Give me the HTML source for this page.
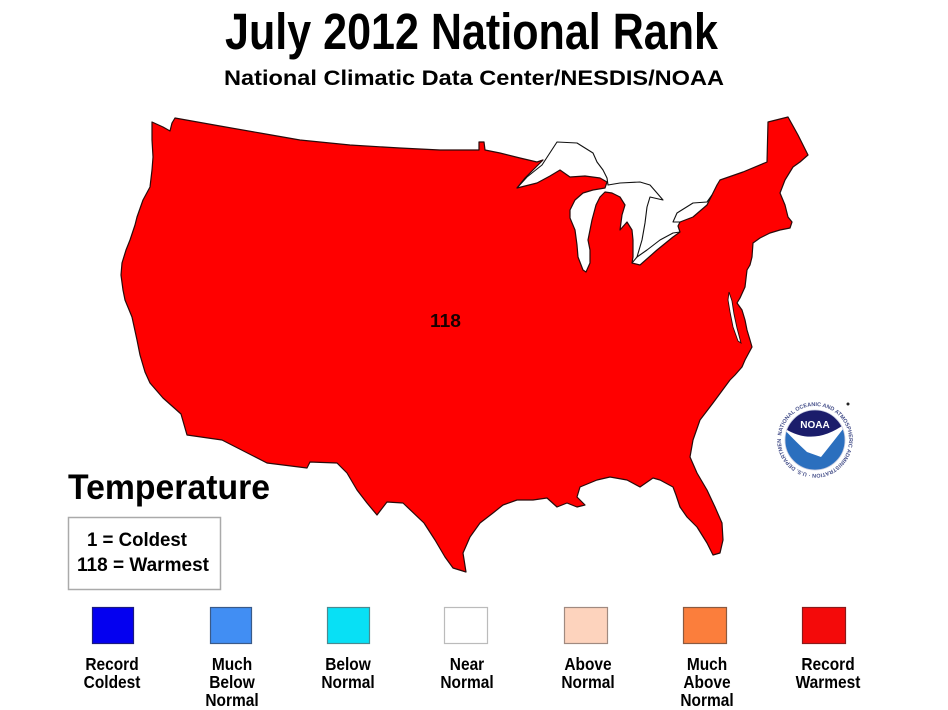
<!DOCTYPE html>
<html>
<head>
<meta charset="utf-8">
<style>
html,body{margin:0;padding:0;background:#fff;}
svg{display:block;}
text{font-family:"Liberation Sans",Arial,sans-serif;font-weight:bold;}
</style>
</head>
<body>
<svg width="948" height="710" viewBox="0 0 948 710" xmlns="http://www.w3.org/2000/svg">
<rect width="948" height="710" fill="#fff"/>

<!-- Titles -->
<text x="225" y="49" font-size="51" fill="#000" textLength="493" lengthAdjust="spacingAndGlyphs">July 2012 National Rank</text>
<text x="224" y="85" font-size="21" fill="#000" textLength="500" lengthAdjust="spacingAndGlyphs">National Climatic Data Center/NESDIS/NOAA</text>

<!-- Map -->
<path fill="#ff0000" stroke="#2a0a0a" stroke-width="1.2" stroke-linejoin="round" d="
M152,122 L163,127 L170,131 L172,123 L175,118
L220,126 L260,133 L300,140 L350,145 L400,148 L440,150 L479,150 L479,142 L484,142 L485,150 L500,153 L520,158 L537,162 L543,160
L535,168 L525,178 L517,188
L525,186 L537,183 L550,176 L560,170 L570,177 L585,176 L600,178 L607,182
L605,188 L593,190 L583,193 L575,200 L570,210 L570,218 L575,230 L577,245 L578,257 L583,270 L586,272 L590,263 L590,250 L588,240 L592,220 L596,205 L600,197 L605,192 L612,193 L620,197 L625,205 L622,215 L620,230 L627,222 L632,230 L633,240 L633,257 L632,263
L640,265 L657,250 L673,237 L680,232
L678,226 L680,222 L693,217 L707,205
L712,195 L717,185 L720,180 L743,172 L767,162 L768,122 L788,117 L798,135 L808,155 L800,162 L793,167 L785,180 L780,193 L785,205 L788,217 L792,222 L790,228 L780,230 L770,233 L760,238 L753,243 L752,257 L750,265 L747,270 L745,287 L740,298 L737,303 L742,310 L745,320 L747,330 L750,340 L752,347 L745,360 L742,367 L735,375 L730,380 L713,403 L700,420 L693,440 L690,457 L697,473 L707,490 L715,507 L722,523 L723,540 L720,553 L713,555 L707,543 L697,527 L687,517 L680,507 L676,495 L673,487 L660,480 L653,478 L640,487 L627,480 L610,477 L597,480 L580,487 L577,497 L585,505 L577,507 L567,503 L557,507 L547,498 L533,500 L517,500 L503,505 L493,513 L480,523 L470,537 L463,553 L466,572
L453,568 L445,557 L435,540 L424,523 L403,503 L387,502 L377,515 L367,503 L357,490 L347,473 L337,463 L310,462 L307,468 L267,463 L222,440 L187,435 L181,414 L163,398 L150,383
L145,372 L140,355 L137,340 L132,317 L125,300 L123,290 L121,275 L122,263 L126,250 L130,240 L135,225 L137,217 L143,200 L150,187 L152,170 L153,157 L152,140 Z"/>

<!-- Chesapeake -->
<path fill="#fff" stroke="#2a0a0a" stroke-width="0.9" d="M729,292 L732,301 L734,314 L737,328 L741,343 L738,341 L733,327 L730,312 L728,300 Z"/>

<!-- Canadian lake shores -->
<g fill="none" stroke="#111" stroke-width="1.1" stroke-linejoin="round">
<path d="M517,188 L527,177 L542,165 L557,142 L577,143 L593,153 L597,162 L603,170 L607,178 L608,185 L620,183 L640,182 L650,185 L657,193 L663,200 L650,197 L647,207 L645,223 L642,240 L637,257 L632,263"/>
<path d="M637,257 L647,250 L660,240 L673,233 L680,232"/>
<path d="M680,222 L673,222 L677,213 L693,203 L707,202 L712,195"/>
</g>

<text x="430" y="327" font-size="18" fill="#1a0000" textLength="31" lengthAdjust="spacingAndGlyphs">118</text>

<!-- NOAA logo -->
<defs>
<clipPath id="disk"><circle cx="815" cy="440" r="30"/></clipPath>
<path id="ring" d="M815,440 m-34,0 a34,34 0 1,1 68,0 a34,34 0 1,1 -68,0"/>
</defs>
<circle cx="815" cy="440" r="38" fill="#fff"/>
<text font-size="5.5" fill="#46508a"><textPath href="#ring" startOffset="2%">NATIONAL OCEANIC AND ATMOSPHERIC ADMINISTRATION · U.S. DEPARTMENT OF COMMERCE ·</textPath></text>
<g clip-path="url(#disk)">
<rect x="780" y="405" width="75" height="75" fill="#2b6fbe"/>
<path d="M780,405 L852,405 L852,423 Q815,448 780,428 Z" fill="#1b1d6b"/>
<path d="M781,426 Q814,450 850,420 Q837,437 821,457 L807,452 Q795,441 781,426 Z" fill="#fff"/>
</g>
<circle cx="815" cy="440" r="30" fill="none" stroke="#c8cce0" stroke-width="0.8"/>
<text x="815" y="428" font-size="10" fill="#ffffff" text-anchor="middle">NOAA</text>
<circle cx="848" cy="404" r="1.5" fill="#222"/>

<!-- Temperature legend box -->
<text x="68" y="499" font-size="35" fill="#000" textLength="202" lengthAdjust="spacingAndGlyphs">Temperature</text>
<rect x="68.5" y="517.5" width="152" height="72" fill="#fff" stroke="#aaa" stroke-width="1.5"/>
<text x="87" y="546" font-size="19" fill="#000" textLength="100" lengthAdjust="spacingAndGlyphs">1 = Coldest</text>
<text x="77" y="571" font-size="19" fill="#000" textLength="132" lengthAdjust="spacingAndGlyphs">118 = Warmest</text>

<!-- Color legend -->
<g stroke-width="1.2">
<rect x="92.5" y="607.5" width="41" height="36" fill="#0400f0" stroke="#1a1a80"/>
<rect x="210.5" y="607.5" width="41" height="36" fill="#418ef3" stroke="#3a5a88"/>
<rect x="327.5" y="607.5" width="42" height="36" fill="#08e0f5" stroke="#4a8a90"/>
<rect x="444.5" y="607.5" width="43" height="36" fill="#fff" stroke="#bbb"/>
<rect x="564.5" y="607.5" width="43" height="36" fill="#fdd3bd" stroke="#a08a80"/>
<rect x="683.5" y="607.5" width="43" height="36" fill="#fb7e3c" stroke="#8a5a40"/>
<rect x="802.5" y="607.5" width="43" height="36" fill="#f40a0a" stroke="#8a1a1a"/>
</g>

<g font-size="18" text-anchor="middle" fill="#000">
<g transform="translate(112,0) scale(0.86,1)"><text x="0" y="670">Record</text><text x="0" y="688">Coldest</text></g>
<g transform="translate(232,0) scale(0.86,1)"><text x="0" y="670">Much</text><text x="0" y="688">Below</text><text x="0" y="706">Normal</text></g>
<g transform="translate(348,0) scale(0.86,1)"><text x="0" y="670">Below</text><text x="0" y="688">Normal</text></g>
<g transform="translate(467,0) scale(0.86,1)"><text x="0" y="670">Near</text><text x="0" y="688">Normal</text></g>
<g transform="translate(588,0) scale(0.86,1)"><text x="0" y="670">Above</text><text x="0" y="688">Normal</text></g>
<g transform="translate(707,0) scale(0.86,1)"><text x="0" y="670">Much</text><text x="0" y="688">Above</text><text x="0" y="706">Normal</text></g>
<g transform="translate(828,0) scale(0.86,1)"><text x="0" y="670">Record</text><text x="0" y="688">Warmest</text></g>
</g>
</svg>
</body>
</html>
